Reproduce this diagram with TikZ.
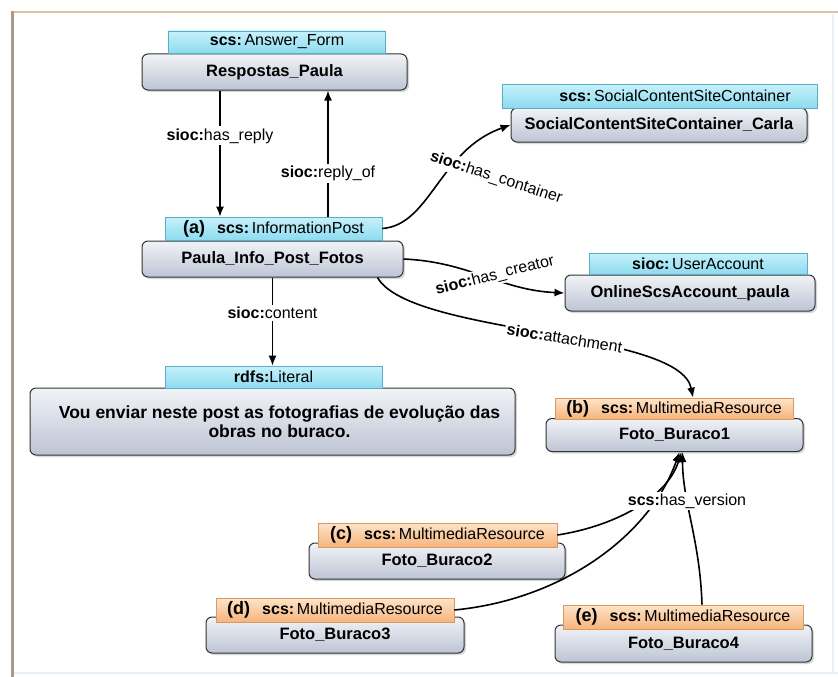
\documentclass[tikz,border=0pt]{standalone}
\usepackage{fontspec}
\setmainfont{Liberation Sans}
\usetikzlibrary{arrows.meta,shadows,calc}
\definecolor{boxtop}{HTML}{F1F3F7}
\definecolor{boxbot}{HTML}{BDC4D4}
\definecolor{bluetop}{HTML}{C6F1FB}
\definecolor{bluebot}{HTML}{8DDBEF}
\definecolor{blueedge}{HTML}{5AAFC6}
\definecolor{ortop}{HTML}{FDE4C8}
\definecolor{orbot}{HTML}{F6B47C}
\definecolor{oredge}{HTML}{D69A62}
\definecolor{frameL}{HTML}{A8978A}
\definecolor{frameT}{HTML}{DDC2A4}
\definecolor{frameB}{HTML}{E6F0F8}
\newcommand\edgelab[2]{\textbf{#1:}#2}
\newcommand\tagid[1]{\textbf{\fontsize{18}{19}\selectfont(#1)}\hspace{12pt}}
\begin{document}
\begin{tikzpicture}[x=1pt,y=-1pt,
 every node/.style={font=\fontsize{16}{19}\selectfont, inner sep=0pt},
 mainbox/.style={draw=black!80, line width=1pt, rounded corners=6pt, top color=boxtop, bottom color=boxbot,
   drop shadow={shadow xshift=2pt, shadow yshift=-2pt, opacity=0.3}, font=\fontsize{16.5}{19}\selectfont\bfseries},
 bluetag/.style={draw=blueedge, line width=0.6pt, top color=bluetop, bottom color=bluebot},
 ortag/.style={draw=oredge, line width=0.6pt, top color=ortop, bottom color=orbot},
 conn/.style={line width=1.6pt, -{Latex[length=10pt,width=8pt]}},
 lbl/.style={fill=white, inner sep=2pt}
]
\useasboundingbox (0,0) rectangle (838,677);
\fill[white] (0,0) rectangle (838,677);
% frame
\draw[frameB, line width=1.2pt] (14,673) -- (838,673);
\draw[frameB, line width=1.2pt] (833,14) -- (833,673);
\draw[frameT, line width=1.5pt] (12,12) -- (838,12);
\draw[frameL, line width=3pt] (12,11) -- (12,677);

% nodes
\node[mainbox, minimum width=265pt, minimum height=36pt] (resp) at (274.5,72) {Respostas\_Paula};
\node[bluetag, minimum width=217pt, minimum height=22pt] (resptag) at (277,42) {\textbf{scs:}\,Answer\_Form};

\node[mainbox, minimum width=296pt, minimum height=34pt] (soc) at (659,125) {SocialContentSiteContainer\_Carla};
\node[bluetag, minimum width=315pt, minimum height=24pt] (soctag) at (659.5,96) {\hspace*{31pt}\textbf{scs:}\,SocialContentSiteContainer};

\node[mainbox, minimum width=261pt, minimum height=36pt] (post) at (272.5,259) {Paula\_Info\_Post\_Fotos};
\node[bluetag, minimum width=217pt, minimum height=23pt] (atag) at (273.5,228.5) {\tagid{a}\textbf{scs:}\,InformationPost};

\node[mainbox, minimum width=250pt, minimum height=36pt] (user) at (690,293) {OnlineScsAccount\_paula};
\node[bluetag, minimum width=218pt, minimum height=21pt] (usertag) at (698,263.5) {\textbf{sioc:}\,UserAccount};

\node[mainbox, minimum width=485pt, minimum height=67pt, align=center, font=\fontsize{17.5}{18.5}\selectfont\bfseries] (lit) at (272.5,421.5) {\hspace*{14pt}Vou enviar neste post as fotografias de evolução das\\\hspace*{14pt}obras no buraco.};
\node[bluetag, minimum width=217pt, minimum height=22pt] (littag) at (273.5,377) {\textbf{rdfs:}Literal};

\node[mainbox, minimum width=257pt, minimum height=33pt] (b) at (674.5,435) {Foto\_Buraco1};
\node[ortag, minimum width=238pt, minimum height=21pt] (btag) at (674,408.5) {\tagid{b}\textbf{scs:}\,MultimediaResource};

\node[mainbox, minimum width=256pt, minimum height=36pt] (c) at (437,561) {Foto\_Buraco2};
\node[ortag, minimum width=239pt, minimum height=24pt] (ctag) at (437.5,535) {\tagid{c}\textbf{scs:}\,MultimediaResource};

\node[mainbox, minimum width=258pt, minimum height=36pt] (d) at (335,635) {Foto\_Buraco3};
\node[ortag, minimum width=238pt, minimum height=24pt] (dtag) at (335,610) {\tagid{d}\textbf{scs:}\,MultimediaResource};

\node[mainbox, minimum width=257pt, minimum height=37pt] (e) at (683.5,643.5) {Foto\_Buraco4};
\node[ortag, minimum width=240pt, minimum height=24pt] (etag) at (683,617) {\tagid{e}\textbf{scs:}\,MultimediaResource};

% connectors
\coordinate (xr) at (220,0);
\coordinate (xo) at (328,0);
\draw[conn] (resp.south -| xr) -- (atag.north -| xr) node[lbl, pos=0.36] {\edgelab{sioc}{has\_reply}};
\draw[conn] (atag.north -| xo) -- (resp.south -| xo) node[lbl, pos=0.34] {\edgelab{sioc}{reply\_of}};
\draw[conn] (post.south) -- (post.south |- littag.north) node[lbl, pos=0.4] {\edgelab{sioc}{content}};

\draw[conn] (atag.east) .. controls +(48,-3.5) and +(-71,25) .. (soc.west)
  node[lbl, rotate=-18, pos=0.62, xshift=46pt, yshift=5pt] {\edgelab{sioc}{has\_container}};
\draw[conn] (post.east) .. controls +(67,3) and +(-65,-3) .. (user.west)
  node[lbl, rotate=14, pos=0.5, xshift=10pt, yshift=-2pt] {\edgelab{sioc}{has\_creator}};
\draw[conn] ([xshift=-26pt]post.south east) .. controls +(33,58) and +(-13,-68) .. ([xshift=19pt]btag.north)
  node[lbl, rotate=-9, pos=0.55] {\edgelab{sioc}{attachment}};

\draw[conn] (ctag.east) .. controls +(53,-8) and +(-15,48) .. ([xshift=7pt]b.south);
\draw[conn] (dtag.east) .. controls +(106,-10) and +(-30,85) .. ([xshift=5pt]b.south);
\draw[conn] ([xshift=19pt]etag.north) .. controls +(-2,-65) and +(0,50) .. ([xshift=8pt]b.south);
\node[lbl] (hv) at (687,501) {\edgelab{scs}{has\_version}};
\end{tikzpicture}
\end{document}
